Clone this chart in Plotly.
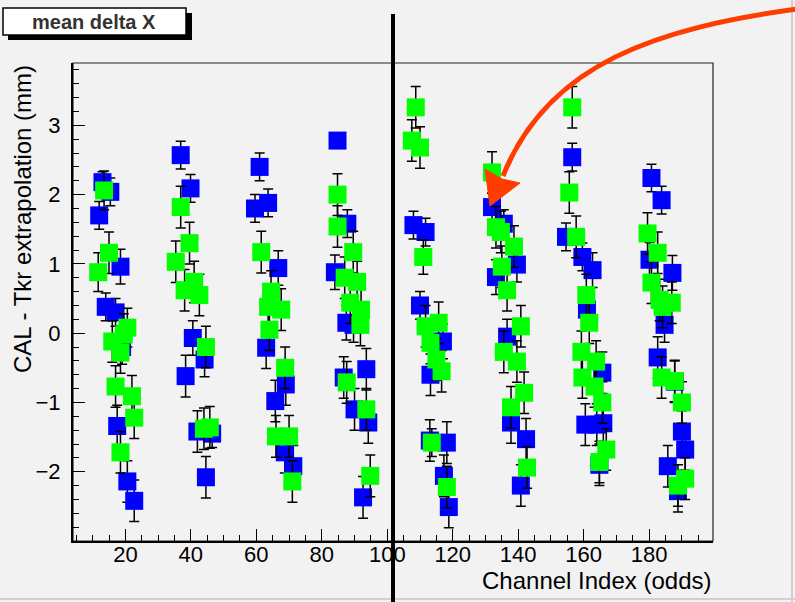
import plotly.graph_objects as go

# ---------------- data ----------------
blue_x = [13.0, 15.4, 12.0, 18.5, 14.0, 17.0, 19.0, 17.5, 20.6, 22.7,
          36.9, 39.9, 40.6, 44.2, 38.4, 42.0, 44.6, 46.5,
          61.0, 63.6, 59.6, 66.7, 63.0, 69.0, 65.8, 68.7, 71.3,
          84.8, 87.8, 84.0, 87.5, 89.7, 86.7, 93.6, 90.0, 94.2, 92.6,
          108.0, 111.7, 110.0, 117.0, 113.2, 118.2, 113.0, 117.3, 118.8,
          132.0, 135.6, 139.6, 133.2, 136.6, 137.8, 142.4, 140.8,
          156.5, 154.6, 159.6, 162.7, 161.0, 165.7, 164.0, 160.5, 166.0, 164.8,
          180.7, 183.8, 180.1, 187.1, 184.7, 182.6, 187.8, 190.0, 191.0, 185.7, 188.8]
blue_y = [2.18, 2.04, 1.70, 0.96, 0.38, 0.30, -0.20, -1.34, -2.14, -2.42,
          2.57, 2.09, -0.07, -0.38, -0.62, -1.42, -2.08, -1.45,
          2.40, 1.88, 1.80, 0.94, -0.21, -0.74, -0.98, -1.72, -1.92,
          2.78, 1.58, 0.88, 0.15, 0.12, -0.64, -0.52, -1.10, -1.29, -2.37,
          1.56, 1.46, 0.40, -0.12, -0.60, -1.58, -1.55, -2.06, -2.51,
          1.82, 1.58, 0.99, 0.81, -0.05, -1.29, -1.53, -2.20,
          2.54, 1.39, 1.10, 0.91, 0.34, -0.57, -1.32, -1.32, -1.30, -1.90,
          2.24, 1.92, 1.06, 0.87, 0.12, -0.35, -0.70, -1.42, -1.68, -1.92, -2.28]
blue_err = [0.15, 0.2, 0.2, 0.25, 0.2, 0.2, 0.25, 0.3, 0.3, 0.3,
            0.2, 0.2, 0.25, 0.25, 0.3, 0.3, 0.3, 0.2,
            0.2, 0.2, 0.2, 0.25, 0.3, 0.3, 0.3, 0.3, 0.3,
            0.1, 0.2, 0.25, 0.25, 0.25, 0.3, 0.3, 0.3, 0.3, 0.3,
            0.2, 0.2, 0.2, 0.25, 0.3, 0.3, 0.3, 0.3, 0.3,
            0.2, 0.2, 0.25, 0.25, 0.25, 0.3, 0.3, 0.3,
            0.2, 0.2, 0.2, 0.25, 0.25, 0.3, 0.3, 0.3, 0.3, 0.3,
            0.2, 0.2, 0.25, 0.25, 0.25, 0.3, 0.3, 0.3, 0.3, 0.3, 0.3]

green_x = [13.5, 15.0, 11.7, 20.6, 16.0, 18.5, 19.5, 17.0, 22.0, 22.7, 18.5,
           36.9, 39.6, 35.4, 41.0, 38.1, 42.6, 44.6, 45.8, 44.0,
           61.5, 64.5, 63.6, 67.6, 64.0, 68.8, 66.0, 70.0, 71.0,
           84.8, 84.8, 89.6, 87.0, 90.8, 88.7, 92.0, 91.8, 87.6, 93.6, 94.8,
           108.7, 107.5, 110.0, 111.0, 111.7, 115.7, 113.2, 115.0, 116.6, 113.6, 118.2,
           132.0, 133.2, 134.7, 138.7, 135.0, 136.6, 140.8, 135.6, 139.6, 141.8, 137.8, 142.7,
           156.5, 155.6, 157.7, 160.8, 161.7, 159.3, 163.8, 159.6, 163.3, 165.7, 166.9, 164.8,
           179.5, 182.6, 180.7, 183.2, 186.9, 184.1, 183.8, 187.8, 190.0, 191.0, 188.8]
green_y = [2.06, 1.16, 0.88, 0.08, -0.12, -0.28, -0.02, -0.77, -0.91, -1.22, -1.72,
           1.82, 1.30, 1.03, 0.74, 0.62, 0.55, -0.20, -1.36, -1.38,
           1.17, 0.60, 0.38, 0.34, 0.05, -0.50, -1.49, -1.49, -2.14,
           2.00, 1.54, 1.17, 0.80, 0.74, 0.44, 0.34, 0.12, -0.71, -1.10, -2.06,
           3.26, 2.78, 2.68, 1.10, 0.10, 0.15, -0.14, -0.38, -0.55, -1.58, -2.22,
           2.32, 1.53, 1.46, 1.25, 0.96, 0.62, 0.10, -0.27, -0.41, -0.86, -1.07, -1.94,
           3.26, 2.03, 1.39, 0.55, 0.15, -0.27, -0.41, -0.64, -0.77, -1.00, -1.68, -1.86,
           1.44, 1.16, 0.73, 0.48, 0.44, 0.38, -0.64, -0.69, -1.00, -2.10, -2.20]
green_err = [0.28, 0.3, 0.28, 0.28, 0.3, 0.3, 0.3, 0.3, 0.3, 0.3, 0.3,
             0.3, 0.3, 0.3, 0.3, 0.3, 0.3, 0.3, 0.3, 0.3,
             0.3, 0.3, 0.3, 0.3, 0.3, 0.3, 0.3, 0.3, 0.3,
             0.3, 0.3, 0.3, 0.3, 0.3, 0.3, 0.3, 0.3, 0.3, 0.3, 0.3,
             0.3, 0.3, 0.3, 0.25, 0.3, 0.3, 0.3, 0.3, 0.3, 0.2, 0.3,
             0.3, 0.3, 0.3, 0.3, 0.3, 0.3, 0.3, 0.3, 0.3, 0.3, 0.3, 0.3,
             0.3, 0.3, 0.3, 0.3, 0.3, 0.3, 0.3, 0.3, 0.3, 0.3, 0.3, 0.3,
             0.3, 0.3, 0.3, 0.3, 0.3, 0.3, 0.3, 0.3, 0.3, 0.3, 0.3]

x_ticks = [20, 40, 60, 80, 100, 120, 140, 160, 180]
y_ticks = [-2, -1, 0, 1, 2, 3]
title_text = "mean delta X"
x_title = "Channel Index (odds)"
y_title = "CAL - Tkr extrapolation (mm)"

# ---------------- layout geometry ----------------
W, H = 795, 602
L, R, T, B = 73, 82, 63, 61
PW, PH = W - L - R, H - T - B


def px(x):
    return (x - L) / PW


def py(y):
    return (H - B - y) / PH


FONT = "Liberation Sans, Arial, sans-serif"
BG = "#f2f2f2"
TICK_SIZE = 22
TITLE_SIZE = 24

fig = go.Figure()

for xs, ys, es, col in [(blue_x, blue_y, blue_err, "#0000ff"),
                        (green_x, green_y, green_err, "#00ff00")]:
    fig.add_trace(go.Scatter(
        x=xs, y=ys, mode="markers",
        marker=dict(symbol="square", size=18, color=col, line=dict(width=0)),
        error_y=dict(type="data", array=es, visible=True, color="black",
                     thickness=1.5, width=5),
        showlegend=False, hoverinfo="skip"))

shapes = []
# frame top/right
shapes.append(dict(type="rect", xref="paper", yref="paper", x0=0, x1=1, y0=0, y1=1,
                   line=dict(color="#222222", width=1.2), layer="below"))
# window borders
shapes.append(dict(type="line", xref="paper", yref="paper", x0=px(792), x1=px(792),
                   y0=py(0), y1=py(602), line=dict(color="#d0d0d0", width=2)))
shapes.append(dict(type="line", xref="paper", yref="paper", x0=px(0), x1=px(795),
                   y0=py(599), y1=py(599), line=dict(color="#d0d0d0", width=2)))
# title box with shadow
shapes.append(dict(type="rect", xref="paper", yref="paper", x0=px(8), x1=px(192),
                   y0=py(40), y1=py(13), fillcolor="black", line=dict(width=0)))
shapes.append(dict(type="rect", xref="paper", yref="paper", x0=px(3), x1=px(186),
                   y0=py(35), y1=py(8), fillcolor="white",
                   line=dict(color="black", width=1.5)))
# thick vertical line
shapes.append(dict(type="line", xref="paper", yref="paper", x0=px(393), x1=px(393),
                   y0=py(602), y1=py(14), line=dict(color="black", width=4)))
# red curved arrow
p0, c1, c2, p1 = (797, 9), (660, 28), (548, 62), (503, 176)
path = "M {},{} C {},{} {},{} {},{}".format(px(p0[0]), py(p0[1]), px(c1[0]), py(c1[1]),
                                           px(c2[0]), py(c2[1]), px(p1[0]), py(p1[1]))
shapes.append(dict(type="path", xref="paper", yref="paper", path=path,
                   line=dict(color="#ff3d00", width=5)))
head = "M {},{} L {},{} L {},{} L {},{} Z".format(px(490), py(206), px(485), py(169),
                                                 px(502), py(179), px(520), py(183))
shapes.append(dict(type="path", xref="paper", yref="paper", path=head,
                   fillcolor="#ff3d00", line=dict(color="#ff3d00", width=1)))

annotations = [
    dict(text="<b>" + title_text + "</b>", xref="paper", yref="paper",
         x=px(94), y=py(21.5), xanchor="center", yanchor="middle", showarrow=False,
         font=dict(family=FONT, size=20, color="#333333")),
    dict(text=x_title, xref="paper", yref="paper", x=1.0, y=py(580),
         xanchor="right", yanchor="middle", showarrow=False,
         font=dict(family=FONT, size=TITLE_SIZE, color="black")),
    dict(text=y_title, xref="paper", yref="paper", x=px(22), y=1.0, textangle=-90,
         xanchor="center", yanchor="top", showarrow=False,
         font=dict(family=FONT, size=TITLE_SIZE, color="black")),
]

fig.update_layout(
    width=W, height=H, autosize=False,
    margin=dict(l=L, r=R, t=T, b=B, pad=0),
    paper_bgcolor=BG, plot_bgcolor=BG,
    shapes=shapes, annotations=annotations,
    xaxis=dict(range=[4.0, 199.5], tickmode="array", tickvals=x_ticks,
               ticks="inside", ticklen=12, tickwidth=1, tickcolor="black",
               minor=dict(dtick=5, tick0=0, ticks="inside", ticklen=6,
                          tickcolor="black", tickwidth=1),
               showline=True, linecolor="black", linewidth=2,
               showgrid=False, zeroline=False, ticklabelstandoff=-7,
               tickfont=dict(family=FONT, size=TICK_SIZE, color="black")),
    yaxis=dict(range=[-3.0, 3.9], tickmode="array", tickvals=y_ticks,
               ticks="inside", ticklen=12, tickwidth=1, tickcolor="black",
               minor=dict(dtick=0.2, tick0=0, ticks="inside", ticklen=6,
                          tickcolor="black", tickwidth=1),
               showline=True, linecolor="black", linewidth=2,
               showgrid=False, zeroline=False, ticklabelstandoff=6,
               tickfont=dict(family=FONT, size=TICK_SIZE, color="black")),
)

fig.write_html("out.html")
